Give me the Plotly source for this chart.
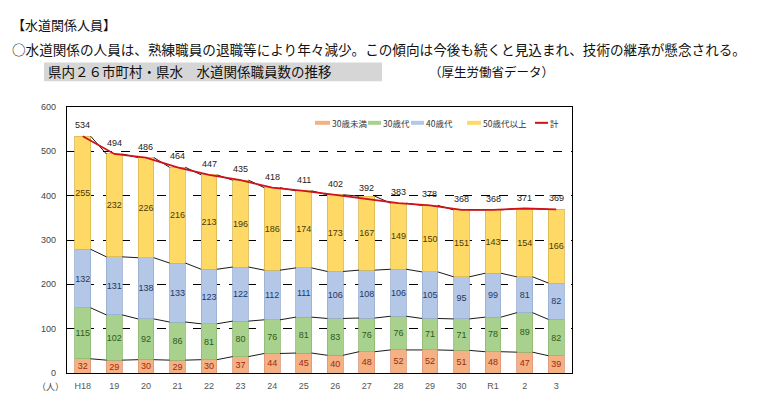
import plotly.graph_objects as go

categories = ["H18", "19", "20", "21", "22", "23", "24", "25", "26", "27", "28", "29", "30", "R1", "2", "3"]
under30 = [32, 29, 30, 29, 30, 37, 44, 45, 40, 48, 52, 52, 51, 48, 47, 39]
age30s = [115, 102, 92, 86, 81, 80, 76, 81, 83, 76, 76, 71, 71, 78, 89, 82]
age40s = [132, 131, 138, 133, 123, 122, 112, 111, 106, 108, 106, 105, 95, 99, 81, 82]
over50 = [255, 232, 226, 216, 213, 196, 186, 174, 173, 167, 149, 150, 151, 143, 154, 166]
totals = [534, 494, 486, 464, 447, 435, 418, 411, 402, 392, 383, 378, 368, 368, 371, 369]
series_names = ["30歳未満", "30歳代", "40歳代", "50歳代以上"]
total_name = "計"
y_ticks = [0, 100, 200, 300, 400, 500, 600]

W, H = 759, 395
L, R, T, B = 59, 564, 99, 368  # plot area in pixels
BAR_W = 0.5

def px(x):
    return (x - L) / (R - L)

def py(y):
    return (B - y) / (B - T)

JP = "Noto Sans CJK JP, sans-serif"
NUM = "Liberation Sans, Arial, sans-serif"

fills = ["#F4B183", "#A9D18E", "#B4C7E7", "#FFD966"]
edges = ["#D9967A", "#8FB872", "#98AFD3", "#D8B850"]
txtcol = ["#9C2A12", "#2E5A1C", "#1F3864", "#4A3A08"]
series = [under30, age30s, age40s, over50]

xs = list(range(len(categories)))
fig = go.Figure()

for vals, name, fc, ec, tc in zip(series, series_names, fills, edges, txtcol):
    fig.add_trace(go.Bar(
        x=xs, y=vals, name=name, width=BAR_W,
        marker=dict(color=fc, line=dict(color=ec, width=0.8)),
        text=[str(v) for v in vals], textposition="inside", textangle=0,
        insidetextanchor="middle", constraintext="none",
        textfont=dict(family=NUM, size=9, color=tc),
        showlegend=False, hoverinfo="skip",
    ))

# series lines between stacked segment tops
cum = [0] * len(categories)
for vals in series:
    cum = [c + v for c, v in zip(cum, vals)]
    lx, ly = [], []
    for i in range(len(categories) - 1):
        lx += [xs[i] + BAR_W / 2, xs[i + 1] - BAR_W / 2, None]
        ly += [cum[i], cum[i + 1], None]
    fig.add_trace(go.Scatter(x=lx, y=ly, mode="lines",
                             line=dict(color="black", width=0.9),
                             showlegend=False, hoverinfo="skip"))

# total line
fig.add_trace(go.Scatter(x=xs, y=totals, mode="lines", name=total_name,
                         line=dict(color="#D0101A", width=1.8),
                         showlegend=False, hoverinfo="skip"))

shapes = []
annotations = []

# total labels above the bars
for x, t in zip(xs, totals):
    annotations.append(dict(x=x, y=t, xref="x", yref="y", text=str(t),
                            showarrow=False, yshift=11, xanchor="center", yanchor="middle",
                            font=dict(family=NUM, size=9, color="#222222")))

# custom legend (short line symbols)
leg_y = py(115)
leg_items = [(307, 322, series_names[0], fills[0], 4),
             (360, 373, series_names[1], fills[1], 4),
             (403, 416, series_names[2], fills[2], 4),
             (459, 473, series_names[3], fills[3], 4),
             (527, 540, total_name, "#D0101A", 2)]
for x0, x1, name, col, w in leg_items:
    shapes.append(dict(type="line", xref="paper", yref="paper",
                       x0=px(x0), x1=px(x1), y0=leg_y, y1=leg_y,
                       line=dict(color=col, width=w)))
    annotations.append(dict(xref="paper", yref="paper", x=px(x1), y=leg_y,
                            text=name, showarrow=False, xanchor="left", yanchor="middle",
                            font=dict(family=JP, size=8.5, color="#333333")))

# header texts
shapes.append(dict(type="rect", xref="paper", yref="paper", layer="below",
                   x0=px(36), x1=px(374), y0=py(73), y1=py(54),
                   fillcolor="#D6D6D6", line=dict(width=0)))
annotations += [
    dict(xref="paper", yref="paper", x=px(2), y=py(16), text="【水道関係人員】",
         showarrow=False, xanchor="left", yanchor="middle",
         font=dict(family=JP, size=13, color="#111111")),
    dict(xref="paper", yref="paper", x=px(2), y=py(40),
         text="○水道関係の人員は、熟練職員の退職等により年々減少。この傾向は今後も続くと見込まれ、技術の継承が懸念される。",
         showarrow=False, xanchor="left", yanchor="middle",
         font=dict(family=JP, size=13.6, color="#111111")),
    dict(xref="paper", yref="paper", x=px(38), y=py(63),
         text="県内２６市町村・県水　水道関係職員数の推移",
         showarrow=False, xanchor="left", yanchor="middle",
         font=dict(family=JP, size=13.5, color="#111111")),
    dict(xref="paper", yref="paper", x=px(419), y=py(63),
         text="（厚生労働省データ）",
         showarrow=False, xanchor="left", yanchor="middle",
         font=dict(family=JP, size=12.5, color="#111111")),
    dict(xref="paper", yref="paper", x=px(58), y=py(382),
         text="（人）", showarrow=False, xanchor="right", yanchor="middle",
         font=dict(family=JP, size=9, color="#444444")),
]

fig.update_layout(
    width=W, height=H, barmode="stack",
    margin=dict(l=L, r=W - R, t=T, b=H - B, pad=0),
    paper_bgcolor="white", plot_bgcolor="white",
    shapes=shapes, annotations=annotations,
    showlegend=False,
)
fig.update_xaxes(
    range=[-0.5, len(categories) - 0.5], tickvals=xs, ticktext=categories,
    showline=True, linecolor="black", linewidth=1.2, mirror=True,
    showgrid=False, zeroline=False, ticks="", ticklabelstandoff=4,
    tickfont=dict(family=NUM, size=9, color="#555555"),
)
fig.update_yaxes(
    range=[0, 600], tickvals=y_ticks,
    showline=True, linecolor="black", linewidth=1.2, mirror=True,
    showgrid=True, gridcolor="black", gridwidth=1, griddash="dash",
    zeroline=False, ticks="", ticklabelstandoff=8,
    tickfont=dict(family=NUM, size=9, color="#444444"),
)

fig.write_html("out.html")
